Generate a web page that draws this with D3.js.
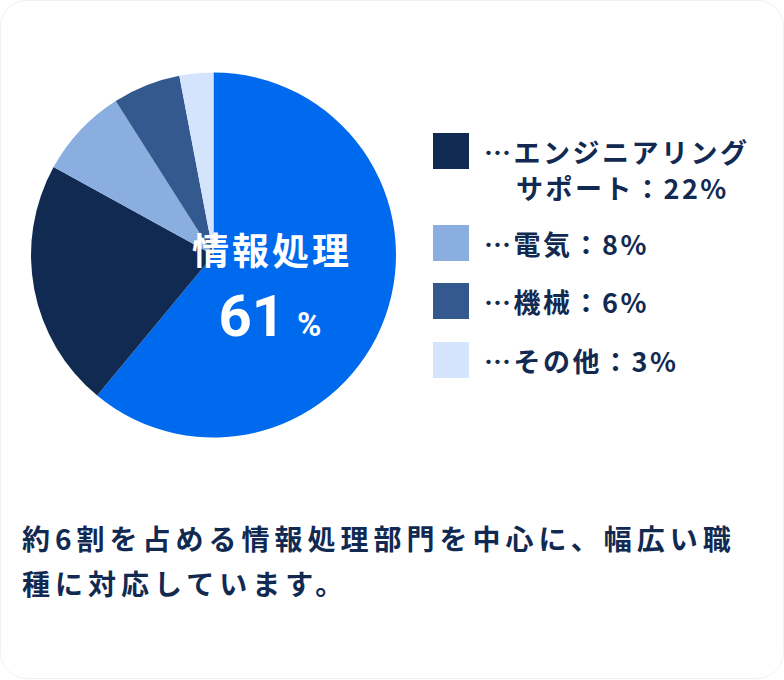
<!DOCTYPE html>
<html><head><meta charset="utf-8">
<script src="https://cdn.jsdelivr.net/npm/d3@7"></script>
<style>
html,body{margin:0;padding:0;background:#fff;}
svg{display:block;font-family:"Noto Sans CJK JP","Noto Sans",sans-serif;}
</style></head>
<body>
<svg id="chart" width="784" height="680"></svg>
<script>
const categories = ["情報処理", "エンジニアリングサポート", "電気", "機械", "その他"];
const values = [61, 22, 8, 6, 3];
const colors = ["#006AEE", "#112A52", "#8AAEE0", "#33598F", "#D4E4FC"];
const legendLines = [
  ["…エンジニアリング", "サポート：22%"],
  ["…電気：8%"],
  ["…機械：6%"],
  ["…その他：3%"]
];
const centerTitle = "情報処理";
const centerValue = "61";
const caption = ["約6割を占める情報処理部門を中心に、幅広い職", "種に対応しています。"];

const textColor = "#122A52";
const svg = d3.select("#chart");

svg.append("rect").attr("x", 0.5).attr("y", 0.5).attr("width", 783).attr("height", 678)
  .attr("rx", 26).attr("fill", "#fff").attr("stroke", "#f1f1f1");

const cx = 213.5, cy = 255, r = 182.5;
const pie = d3.pie().sort(null).value(d => d)(values);
const arc = d3.arc().innerRadius(0).outerRadius(r);
const g = svg.append("g").attr("transform", `translate(${cx},${cy})`);
g.selectAll("path").data(pie).join("path")
  .attr("d", arc).attr("fill", (d, i) => colors[i]);

// center label
svg.append("text").attr("x", 272).attr("y", 265).attr("text-anchor", "middle")
  .attr("fill", "#fff").attr("font-weight", 700).attr("font-size", 37)
  .attr("letter-spacing", 3).text(centerTitle);
const vt = svg.append("text").attr("x", 270).attr("y", 336).attr("text-anchor", "middle")
  .attr("fill", "#fff").attr("font-weight", 700).style("font-family", "Roboto, sans-serif");
vt.append("tspan").attr("font-size", 58).text(centerValue);
vt.append("tspan").attr("font-size", 33).attr("dx", 12).text("%");

// legend
const swY = [133, 225, 283, 342];
const baseY = [163, 255, 313, 372];
const leg = svg.append("g");
legendLines.forEach((lines, i) => {
  leg.append("rect").attr("x", 433).attr("y", swY[i]).attr("width", 36).attr("height", 36)
    .attr("fill", colors[i + 1]);
  lines.forEach((t, j) => {
    leg.append("text").attr("x", j === 0 ? 484 : 516).attr("y", baseY[i] + j * 36)
      .attr("fill", textColor).attr("font-weight", 700).attr("font-size", 27)
      .attr("letter-spacing", 2.5).text(t);
  });
});

// caption
caption.forEach((t, i) => {
  svg.append("text").attr("x", 22).attr("y", 550 + i * 45)
    .attr("fill", textColor).attr("font-weight", 700).attr("font-size", 28)
    .attr("letter-spacing", 5).text(t);
});
</script>
</body></html>
